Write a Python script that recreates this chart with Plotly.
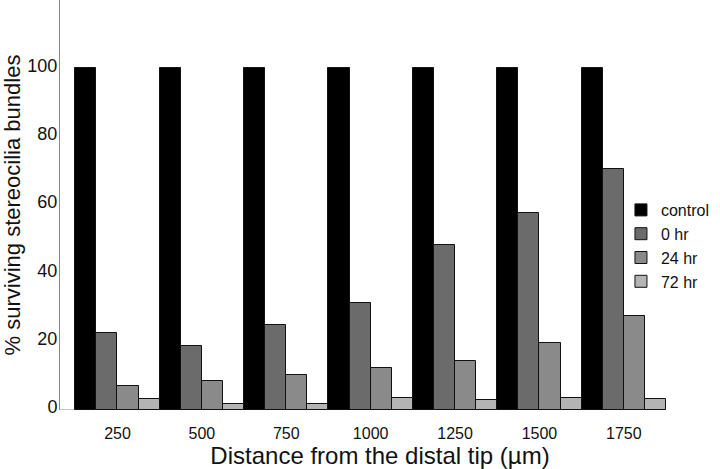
import plotly.graph_objects as go

categories = ["250", "500", "750", "1000", "1250", "1500", "1750"]
control = [100, 100, 100, 100, 100, 100, 100]
hr0 = [22.6, 18.7, 25.0, 31.4, 48.4, 57.8, 70.5]
hr24 = [7.0, 8.5, 10.3, 12.4, 14.4, 19.5, 27.5]
hr72 = [3.1, 1.8, 1.7, 3.6, 2.9, 3.6, 3.2]
series_names = ["control", "0 hr", "24 hr", "72 hr"]
series_values = [control, hr0, hr24, hr72]
colors = ["#000000", "#6b6b6b", "#8a8a8a", "#b4b4b4"]
y_ticks = [0, 20, 40, 60, 80, 100]

xpos = list(range(len(categories)))
fig = go.Figure()
for name, vals, col in zip(series_names, series_values, colors):
    fig.add_trace(go.Bar(x=xpos, y=vals, name=name, marker=dict(color=col, line=dict(color="#111111", width=1))))

font = "Liberation Sans, Arial, sans-serif"
xr = [-0.681, 6.902]
fig.update_layout(
    width=720, height=469,
    margin=dict(l=60, r=20, t=0, b=59),
    paper_bgcolor="white", plot_bgcolor="white",
    barmode="group", bargap=0, bargroupgap=0,
    font=dict(family=font, color="#111111"),
    showlegend=True,
    legend=dict(x=0.8765, y=0.40, xanchor="left", yanchor="middle",
                font=dict(size=16, family=font, color="#111111"),
                bgcolor="rgba(0,0,0,0)", tracegroupgap=0, itemwidth=30),
    xaxis=dict(range=xr, tickmode="array", tickvals=xpos, ticktext=categories,
               showgrid=False, zeroline=False, showline=False, ticks="", automargin=False,
               tickfont=dict(size=16), ticklabelstandoff=12,
               title=dict(text="Distance from the distal tip (µm)", font=dict(size=24), standoff=0)),
    yaxis=dict(range=[0, 120], tickmode="array", tickvals=y_ticks, automargin=False,
               showgrid=False, zeroline=False, showline=True, linecolor="#888888", linewidth=1,
               ticks="", tickfont=dict(size=18), ticklabelshift=-3, ticklabelstandoff=-2,
               title=dict(text="% surviving stereocilia bundles", font=dict(size=22), standoff=8)),
    shapes=[dict(type="line", xref="x", yref="y", x0=xr[0], x1=len(categories) - 0.5, y0=0, y1=0,
                 line=dict(color="#888888", width=1), layer="below")],
)
fig.write_html("out.html", config={"displayModeBar": False},
               post_script="document.body.style.margin='0';")
